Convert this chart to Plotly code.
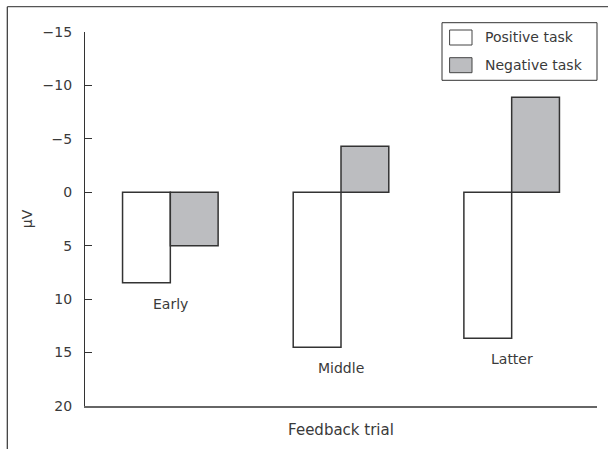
import plotly.graph_objects as go

categories = ["Early", "Middle", "Latter"]
positive_task = [8.46, 14.5, 13.67]
negative_task = [5.0, -4.3, -8.9]
y_ticks = [-15, -10, -5, 0, 5, 10, 15, 20]
y_tick_labels = ["\u221215", "\u221210", "\u22125", "0", "5", "10", "15", "20"]
series_names = ["Positive task", "Negative task"]

FONT = "DejaVu Sans"
TXT = "#3a3a3a"
W, H = 608, 449
ML, MR, MT, MB = 85, 11, 32, 43
PW = W - ML - MR
PH = H - MT - MB


def px(x):
    return (x - ML) / PW


def py(y):
    return (H - MB - y) / PH


fig = go.Figure()
fig.add_trace(go.Bar(
    x=categories, y=positive_task, name=series_names[0],
    marker=dict(color="white", line=dict(color="#333333", width=1.5)),
    showlegend=False,
))
fig.add_trace(go.Bar(
    x=categories, y=negative_task, name=series_names[1],
    marker=dict(color="#bcbdc0", line=dict(color="#333333", width=1.5)),
    showlegend=False,
))

annotations = []
for c, p, n in zip(categories, positive_task, negative_task):
    annotations.append(dict(
        x=c, y=max(p, n), xref="x", yref="y", text=c, showarrow=False,
        yanchor="middle", yshift=-21, font=dict(family=FONT, size=14, color=TXT),
    ))

shapes = [
    # outer frame (top and left)
    dict(type="line", xref="paper", yref="paper", x0=px(7.3), x1=px(620), y0=py(6.7), y1=py(6.7),
         line=dict(color="#555555", width=1.2)),
    dict(type="line", xref="paper", yref="paper", x0=px(7.3), x1=px(7.3), y0=py(6.7), y1=py(460),
         line=dict(color="#333333", width=1.2)),
    # legend box
    dict(type="rect", xref="paper", yref="paper", x0=px(442), x1=px(597), y0=py(80.3), y1=py(22.7),
         line=dict(color="#333333", width=1), fillcolor="white"),
    dict(type="rect", xref="paper", yref="paper", x0=px(449.6), x1=px(472), y0=py(45), y1=py(30),
         line=dict(color="#444444", width=1), fillcolor="white"),
    dict(type="rect", xref="paper", yref="paper", x0=px(449.6), x1=px(472), y0=py(72.7), y1=py(57.7),
         line=dict(color="#444444", width=1), fillcolor="#bcbdc0"),
]
for name, yy in zip(series_names, [37, 65]):
    annotations.append(dict(
        x=px(483), y=py(yy), xref="paper", yref="paper", text=name, showarrow=False,
        xanchor="left", yanchor="middle", font=dict(family=FONT, size=14, color=TXT),
    ))

fig.update_layout(
    width=W, height=H,
    margin=dict(l=ML, r=MR, t=MT, b=MB),
    plot_bgcolor="white", paper_bgcolor="white",
    barmode="group", bargap=0.44, bargroupgap=0,
    font=dict(family=FONT, size=14, color=TXT),
    showlegend=False,
    annotations=annotations,
    shapes=shapes,
    xaxis=dict(
        range=[-0.5, 2.5], showticklabels=False, ticks="",
        showline=True, linecolor="#666666", linewidth=1.5, showgrid=False, zeroline=False,
        title=dict(text="Feedback trial", standoff=18, font=dict(family=FONT, size=15, color=TXT)),
    ),
    yaxis=dict(
        range=[20, -15], tickvals=y_ticks, ticktext=y_tick_labels,
        ticks="inside", ticklen=7, tickcolor="#333333", tickwidth=1,
        ticklabelstandoff=9,
        showline=True, linecolor="#333333", linewidth=1.2, showgrid=False, zeroline=False,
        tickfont=dict(family=FONT, size=14, color=TXT),
        title=dict(text="\u03bcV", standoff=6, font=dict(family=FONT, size=14, color=TXT)),
    ),
)

fig.write_html(
    "out.html",
    config={"displayModeBar": False},
    post_script="document.body.style.margin='0';document.body.style.overflow='hidden';",
)
